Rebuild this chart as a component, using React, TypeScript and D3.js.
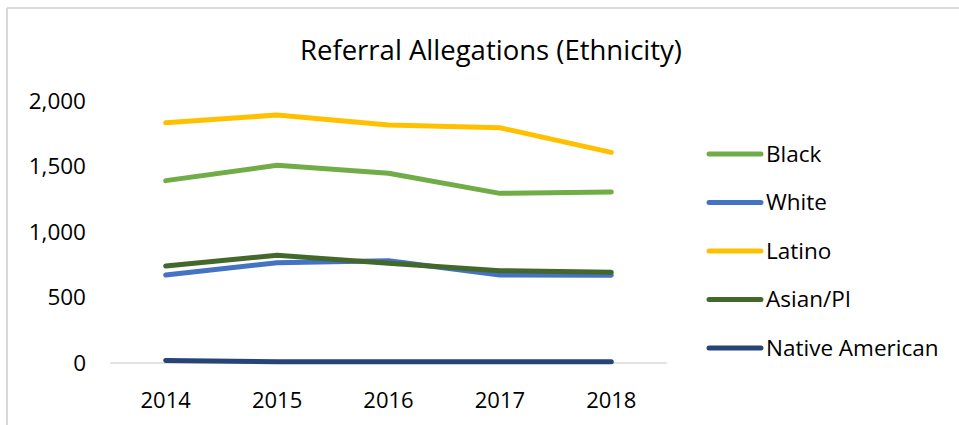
import * as d3 from "d3";

const width = 959;
const height = 425;

const years = ["2014", "2015", "2016", "2017", "2018"];
const yTicks = [0, 500, 1000, 1500, 2000];

const seriesNames = ["Black", "White", "Latino", "Asian/PI", "Native American"];
const seriesColors = ["#70AD47", "#4472C4", "#FFC000", "#43682B", "#264478"];

const black = [1392, 1509, 1448, 1295, 1305];
const white = [672, 766, 781, 672, 669];
const latino = [1834, 1893, 1817, 1796, 1608];
const asian = [740, 822, 761, 705, 692];
const nativeAmerican = [20, 10, 10, 10, 10];

const seriesValues = [black, white, latino, asian, nativeAmerican];

const plotLeft = 110;
const plotRight = 667;
const plotTop = 101;
const plotBottom = 363;

const font = "'Open Sans', sans-serif";

const App = () => {
  const xScale = d3
    .scaleBand()
    .domain(years)
    .range([plotLeft, plotRight]);

  const yScale = d3
    .scaleLinear()
    .domain([0, 2000])
    .range([plotBottom, plotTop]);

  const line = d3
    .line<number>()
    .x((_, i) => xScale(years[i])! + xScale.bandwidth() / 2)
    .y((d) => yScale(d));

  return (
    <svg
      width={width}
      height={height}
      viewBox={`0 0 ${width} ${height}`}
      style={{ position: "absolute", left: 0, top: 0, background: "#fff" }}
    >
      <rect x={0} y={0} width={width} height={height} fill="#fff" />
      {/* chart frame */}
      <line x1={7} x2={width} y1={8} y2={8} stroke="#d9d9d9" strokeWidth={2} />
      <line x1={7} x2={7} y1={8} y2={height} stroke="#d9d9d9" strokeWidth={2} />

      <text
        x={491}
        y={60}
        textAnchor="middle"
        fontFamily={font}
        fontSize={27.5}
        fill="#000"
      >
        Referral Allegations (Ethnicity)
      </text>

      {/* y axis labels */}
      <g className="y-axis">
        {yTicks.map((t) => (
          <text
            key={t}
            x={86}
            y={yScale(t)}
            dy="0.35em"
            textAnchor="end"
            fontFamily={font}
            fontSize={22.5}
            fill="#000"
          >
            {d3.format(",")(t)}
          </text>
        ))}
      </g>

      {/* baseline */}
      <line
        x1={plotLeft}
        x2={plotRight}
        y1={yScale(0)}
        y2={yScale(0)}
        stroke="#d9d9d9"
        strokeWidth={1.5}
      />

      {/* x axis labels */}
      <g className="x-axis">
        {years.map((y) => (
          <text
            key={y}
            x={xScale(y)! + xScale.bandwidth() / 2}
            y={408}
            textAnchor="middle"
            fontFamily={font}
            fontSize={22}
            fill="#000"
          >
            {y}
          </text>
        ))}
      </g>

      {/* series lines */}
      <g className="lines">
        {seriesValues.map((values, i) => (
          <path
            key={seriesNames[i]}
            d={line(values) ?? ""}
            fill="none"
            stroke={seriesColors[i]}
            strokeWidth={5}
            strokeLinecap="round"
            strokeLinejoin="round"
          />
        ))}
      </g>

      {/* legend */}
      <g className="legend">
        {seriesNames.map((name, i) => {
          const ly = 154 + i * 48.5;
          return (
            <g key={name}>
              <line
                x1={709}
                x2={761}
                y1={ly}
                y2={ly}
                stroke={seriesColors[i]}
                strokeWidth={5}
                strokeLinecap="round"
              />
              <text
                x={766}
                y={ly}
                dy="0.35em"
                fontFamily={font}
                fontSize={22.5}
                fill="#000"
              >
                {name}
              </text>
            </g>
          );
        })}
      </g>
    </svg>
  );
};

export default App;
